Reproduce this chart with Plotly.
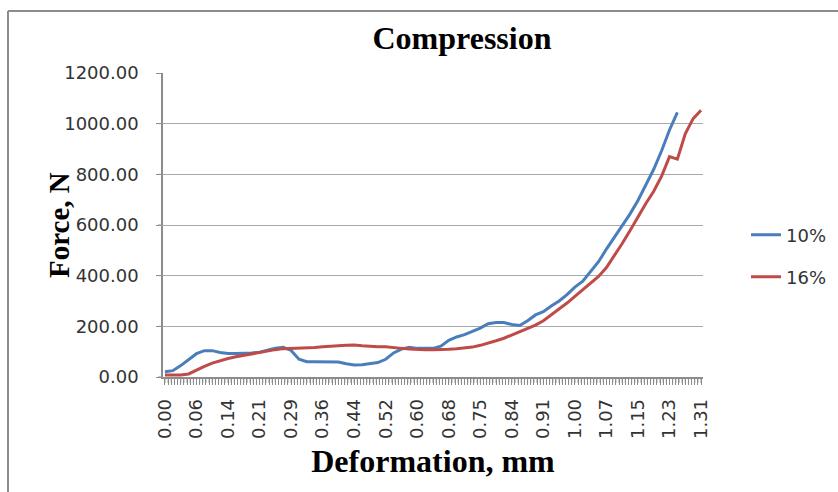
import plotly.graph_objects as go

# Category tick labels (Deformation, mm), one every 10 categories
tick_labels = ["0.00", "0.06", "0.14", "0.21", "0.29", "0.36", "0.44", "0.52", "0.60",
               "0.68", "0.75", "0.84", "0.91", "1.00", "1.07", "1.15", "1.23", "1.31"]

# Force (N), sampled at quarter-label steps along the deformation axis
force_10 = [21, 25, 45, 70, 92, 104, 104, 97, 93, 93, 93, 95, 98, 106, 114, 117, 105, 70,
            60, 60, 60, 60, 59, 52, 47, 48, 53, 57, 70, 95, 110, 117, 113, 113, 113, 122,
            145, 158, 167, 180, 193, 210, 215, 215, 207, 203, 222, 245, 258, 280, 300, 325,
            355, 378, 418, 455, 505, 552, 595, 644, 697, 756, 820, 893, 975, 1045]

force_16 = [8, 8, 8, 12, 28, 42, 55, 65, 73, 80, 86, 91, 96, 102, 108, 112, 113, 113,
            113, 116, 119, 122, 123, 125, 126, 123, 120, 119, 119, 115, 113, 111, 109, 108,
            108, 108, 110, 112, 114, 118, 125, 133, 143, 153, 166, 178, 192, 205, 222, 245,
            268, 292, 318, 345, 372, 397, 432, 478, 527, 578, 632, 685, 733, 793, 870, 860,
            960, 1020, 1053]

y_ticks = [0, 200, 400, 600, 800, 1000, 1200]

series_names = ["10%", "16%"]
series_colors = ["#4A7EBB", "#BE4B48"]

steps_per_label = 4          # data samples between labelled categories
cats_per_label = 10          # category tick marks between labels
n_ticks = (len(tick_labels) - 1) * cats_per_label + 1
tickvals = [i * steps_per_label / cats_per_label for i in range(n_ticks)]
ticktext = [tick_labels[i // cats_per_label] if i % cats_per_label == 0 else ""
            for i in range(n_ticks)]
x_range = [-0.25, 68.25]

W, H = 838, 492
L, R, T, B = 158, 135, 73, 109
pw, ph = W - L - R, H - T - B
XTICK = 6   # px, length of category tick marks
YTICK = 5   # px, length of value tick marks
x_dom0 = YTICK / pw
y_dom0 = XTICK / ph

tick_grey = "#8C8C8C"

fig = go.Figure()
fig.add_trace(go.Scatter(x=list(range(len(force_10))), y=force_10, mode="lines",
                         name=series_names[0], line=dict(color=series_colors[0], width=3),
                         legend="legend"))
fig.add_trace(go.Scatter(x=list(range(len(force_16))), y=force_16, mode="lines",
                         name=series_names[1], line=dict(color=series_colors[1], width=3),
                         legend="legend2"))

# category tick comb under the x axis (strip subplot x / y2)
comb_x, comb_y = [], []
for v in tickvals:
    comb_x += [v, v, None]
    comb_y += [0, 1, None]
fig.add_trace(go.Scatter(x=comb_x, y=comb_y, xaxis="x", yaxis="y2", mode="lines",
                         line=dict(color=tick_grey, width=1), showlegend=False,
                         hoverinfo="skip"))

# value ticks left of the y axis (strip subplot x3 / y)
yt_x, yt_y = [], []
for v in y_ticks:
    yt_x += [0, 1, None]
    yt_y += [v, v, None]
fig.add_trace(go.Scatter(x=yt_x, y=yt_y, xaxis="x3", yaxis="y", mode="lines",
                         line=dict(color=tick_grey, width=1), showlegend=False,
                         hoverinfo="skip"))

def px_x(p):
    return (p - L) / pw

def px_y(p):
    return (H - B - p) / ph

frame_shapes = [
    dict(type="line", xref="paper", yref="paper", x0=px_x(8), x1=px_x(850),
         y0=px_y(11), y1=px_y(11), line=dict(color=tick_grey, width=2)),
    dict(type="line", xref="paper", yref="paper", x0=px_x(8), x1=px_x(8),
         y0=px_y(11), y1=px_y(500), line=dict(color=tick_grey, width=2)),
]

fig.update_layout(
    width=W, height=H,
    margin=dict(l=L, r=R, t=T, b=B, autoexpand=False),
    paper_bgcolor="white", plot_bgcolor="white",
    title=dict(text="<b>Compression</b>", x=462 / W, xanchor="center",
               y=1 - 38 / H, yanchor="middle",
               font=dict(family="Liberation Serif", size=32, color="black")),
    xaxis=dict(
        domain=[x_dom0, 1], anchor="y",
        range=x_range, tickmode="array", tickvals=tickvals, ticktext=ticktext,
        tickangle=-90, ticks="outside", ticklen=XTICK, tickcolor=tick_grey, tickwidth=1,
        showgrid=False, zeroline=False, showline=True, linecolor=tick_grey, linewidth=1.5,
        tickfont=dict(family="DejaVu Sans", size=18, color="#333333"),
        ticklabelstandoff=7, automargin=False,
        title=dict(text="<b>Deformation, mm</b>", standoff=12,
                   font=dict(family="Liberation Serif", size=32, color="black")),
    ),
    yaxis=dict(
        domain=[y_dom0, 1], anchor="x",
        range=[y_ticks[0], y_ticks[-1]], tickmode="array", tickvals=y_ticks,
        tickformat=".2f",
        ticks="outside", ticklen=YTICK, tickcolor=tick_grey, tickwidth=1,
        showgrid=True, gridcolor="#A9A9A9", gridwidth=1.3, zeroline=False,
        showline=True, linecolor=tick_grey, linewidth=1.5,
        tickfont=dict(family="DejaVu Sans", size=18, color="#333333"),
        ticklabelstandoff=14, automargin=False,
    ),
    yaxis2=dict(domain=[0, y_dom0], anchor="x", range=[0, 1], visible=False,
                fixedrange=True),
    xaxis3=dict(domain=[0, x_dom0], anchor="y", range=[0, 1], visible=False,
                fixedrange=True),
    annotations=[
        dict(text="<b>Force, N</b>", xref="paper", yref="paper", x=px_x(59),
             y=px_y(225), xanchor="center", yanchor="middle", textangle=-90,
             showarrow=False,
             font=dict(family="Liberation Serif", size=29, color="black")),
    ],
    legend=dict(x=px_x(746), y=px_y(235), xanchor="left", yanchor="middle",
                font=dict(family="DejaVu Sans", size=18, color="#333333"),
                bgcolor="rgba(0,0,0,0)"),
    legend2=dict(x=px_x(746), y=px_y(277), xanchor="left", yanchor="middle",
                 font=dict(family="DejaVu Sans", size=18, color="#333333"),
                 bgcolor="rgba(0,0,0,0)"),
    showlegend=True,
    shapes=frame_shapes,
)

fig.write_html("out.html", config={"displayModeBar": False},
               post_script="document.body.style.margin='0';document.body.style.overflow='hidden';")
